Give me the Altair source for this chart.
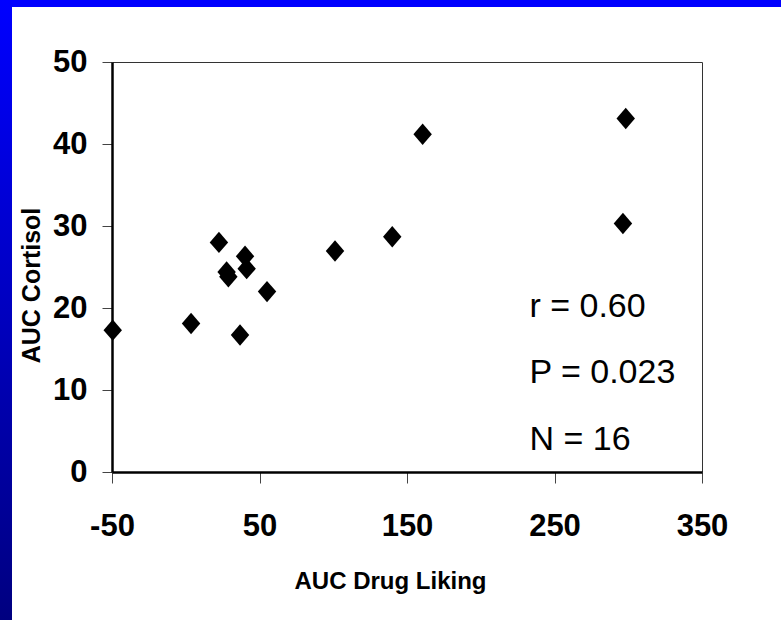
import altair as alt
import pandas as pd

# AUC drug liking vs AUC cortisol, one diamond per subject
drug_liking = [-49.5, 3.6, 22.5, 27.7, 28.9, 40.2, 41.3, 55.1, 36.8, 101.2, 140.0, 160.6, 298.3, 296.4]
cortisol = [17.3, 18.1, 28.0, 24.4, 23.8, 26.3, 24.8, 22.0, 16.7, 26.95, 28.7, 41.2, 43.1, 30.3]

# correlation summary, anchored in data units inside the plot
stat_text = ["r = 0.60", "P = 0.023", "N = 16"]
stat_x = [233, 233, 233]
stat_y = [18.9, 10.8, 2.7]

x_ticks = [-50, 50, 150, 250, 350]
y_ticks = [0, 10, 20, 30, 40, 50]

W, H = 590, 410
PAD_L, PAD_T, PAD_R, PAD_B = 112, 62, 79, 148

points = pd.DataFrame({"liking": drug_liking, "cortisol": cortisol})
stats = pd.DataFrame({"label": stat_text, "x": stat_x, "y": stat_y})

label_font = "Liberation Sans Narrow, Liberation Sans, Arial, sans-serif"

x_enc = alt.X(
    "liking:Q",
    scale=alt.Scale(domain=[-50, 350], nice=False, zero=False),
    axis=alt.Axis(
        values=x_ticks, title="AUC Drug Liking", grid=False,
        labelExpr="'' + datum.value",
        tickSize=11, tickColor="#444", tickWidth=1,
        domainColor="black", domainWidth=2.5,
        labelFont=label_font, labelFontWeight="bold", labelFontSize=31,
        labelColor="black", labelPadding=28, labelFlush=False,
        titleFont=label_font, titleFontWeight="bold", titleFontSize=24,
        titleColor="black", titleX=278, titleY=116, titleBaseline="alphabetic",
    ),
)
y_enc = alt.Y(
    "cortisol:Q",
    scale=alt.Scale(domain=[0, 50], nice=False),
    axis=alt.Axis(
        values=y_ticks, title="AUC Cortisol", grid=False,
        tickSize=10, tickColor="#444", tickWidth=1,
        domainColor="black", domainWidth=2.5,
        labelFont=label_font, labelFontWeight="bold", labelFontSize=31,
        labelColor="black", labelPadding=15,
        titleFont="Liberation Sans, Arial, sans-serif", titleFontWeight="bold",
        titleFontSize=25, titleColor="black", titleAngle=270,
        titleX=-81, titleY=223, titleAlign="center", titleBaseline="middle",
    ),
)

# blue slide frame: solid band along the top, gradient strip down the left
frame = pd.DataFrame({"a": [0]})
top_band = alt.Chart(frame).mark_rect(color="#0000FF", clip=False).encode(
    x=alt.value(-PAD_L), x2=alt.value(W + PAD_R),
    y=alt.value(-PAD_T), y2=alt.value(-55),
)
left_strip = alt.Chart(frame).mark_rect(
    color=alt.LinearGradient(
        gradient="linear", x1=0, y1=0, x2=0, y2=1,
        stops=[alt.GradientStop(color="#0000FF", offset=0),
               alt.GradientStop(color="#000080", offset=1)],
    ),
    clip=False,
).encode(
    x=alt.value(-PAD_L), x2=alt.value(-100),
    y=alt.value(-PAD_T), y2=alt.value(H + PAD_B),
)

diamond = "M-0.86,0L0,-1L0.86,0L0,1Z"
scatter = alt.Chart(points).mark_point(
    shape=diamond, size=460, filled=True, color="black", opacity=1, clip=False,
).encode(x=x_enc, y=y_enc)

annot = alt.Chart(stats).mark_text(
    align="left", baseline="alphabetic", font="Liberation Sans, Arial, sans-serif",
    fontSize=34, color="black",
).encode(x="x:Q", y="y:Q", text="label:N")

chart = alt.layer(scatter, annot, top_band, left_strip).properties(
    width=W, height=H,
    background="white",
    padding={"left": PAD_L, "top": PAD_T, "right": PAD_R, "bottom": PAD_B},
    autosize=alt.AutoSizeParams(type="none"),
).configure_view(stroke="#333", strokeWidth=1)

chart.save("out.html", embed_options={"renderer": "svg", "actions": False})
